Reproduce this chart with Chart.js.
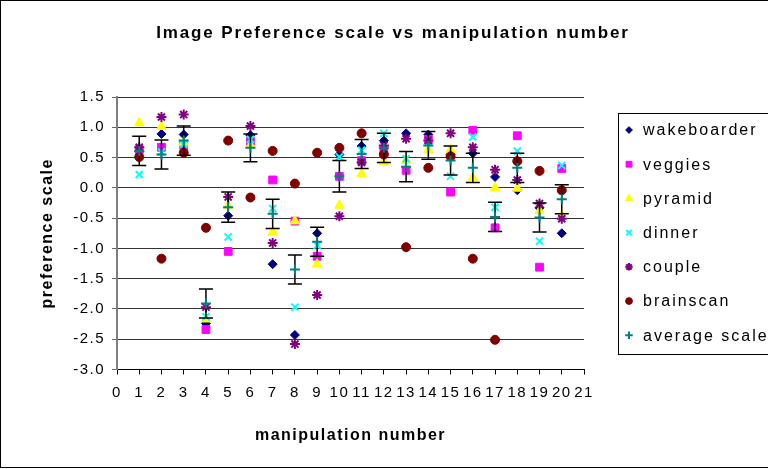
<!doctype html>
<html lang="en">
<head>
<meta charset="utf-8">
<title>Image Preference scale vs manipulation number</title>
<style>
    * { margin: 0; padding: 0; }
    body { background: #fff; width: 768px; height: 469px; overflow: hidden; }
    canvas { display: block; }
</style>
</head>
<body>
<canvas id="myChart" width="768" height="469"></canvas>
<script src="https://cdn.jsdelivr.net/npm/chart.js"></script>
<script>
// manipulation numbers (x values)
const manipulations = [1, 2, 3, 4, 5, 6, 7, 8, 9, 10, 11, 12, 13, 14, 15, 16, 17, 18, 19, 20];

// preference scale per image
const wakeboarder = [0.60, 0.89, 0.88, -2.24, -0.46, 0.87, -1.26, -2.43, -0.75, 0.55, 0.69, 0.78, 0.90, 0.88, 0.55, 0.57, 0.18, -0.04, -0.33, -0.75];
const veggies     = [0.63, 0.67, 0.70, -2.34, -1.05, 0.77, 0.13, -0.55, -1.13, 0.19, 0.45, 0.62, 0.29, 0.80, -0.07, 0.95, -0.66, 0.86, -1.31, 0.32];
const pyramid     = [1.07, 1.01, 0.75, -2.17, -0.29, 0.70, -0.73, -0.55, -1.26, -0.29, 0.23, 0.43, 0.45, 0.62, 0.63, 0.17, 0.00, -0.01, -0.38, -0.45];
const dinner      = [0.22, 0.59, 0.72, -2.13, -0.81, 0.80, -0.34, -1.97, -0.95, 0.51, 0.62, 0.90, 0.48, 0.75, 0.19, 0.84, -0.32, 0.61, -0.88, 0.37];
const couple      = [0.67, 1.17, 1.21, -1.97, -0.15, 1.02, -0.91, -2.58, -1.77, -0.47, 0.42, 0.70, 0.81, 0.78, 0.90, 0.67, 0.30, 0.13, -0.26, -0.51];
const brainscan   = [0.51, -1.17, 0.58, -0.66, 0.78, -0.16, 0.61, 0.07, 0.58, 0.66, 0.90, 0.55, -0.98, 0.33, 0.52, -1.17, -2.51, 0.44, 0.28, -0.04];
const averageScale = [0.61, 0.55, 0.78, -1.91, -0.32, 0.66, -0.43, -1.35, -0.89, 0.19, 0.56, 0.66, 0.35, 0.70, 0.45, 0.33, -0.48, 0.33, -0.49, -0.19];
// error bar half-length on the average
const averageError = [0.24, 0.24, 0.24, 0.24, 0.25, 0.23, 0.24, 0.24, 0.24, 0.26, 0.24, 0.24, 0.25, 0.23, 0.24, 0.24, 0.24, 0.24, 0.24, 0.24];

const seriesNames = ['wakeboarder', 'veggies', 'pyramid', 'dinner', 'couple', 'brainscan', 'average scale'];
const seriesValues = [wakeboarder, veggies, pyramid, dinner, couple, brainscan, averageScale];

const styles = [
    { color: '#000080', pointStyle: 'rectRot', radius: 4.5, width: 1 },
    { color: '#FF00FF', pointStyle: 'rect', radius: 5.5, width: 1 },
    { color: '#FFFF00', pointStyle: 'triangle', radius: 5.5, width: 1 },
    { color: '#00FFFF', pointStyle: 'crossRot', radius: 5, width: 2 },
    { color: '#800080', pointStyle: 'star', radius: 5, width: 2 },
    { color: '#800000', pointStyle: 'circle', radius: 4.5, width: 1 },
    { color: '#008080', pointStyle: 'cross', radius: 5, width: 2 }
];

const FONT = "'Liberation Sans', Arial, sans-serif";

const datasets = seriesNames.map(function (name, i) {
    return {
        label: name,
        data: manipulations.map((m, j) => ({ x: m, y: seriesValues[i][j] })),
        pointStyle: styles[i].pointStyle,
        pointRadius: styles[i].radius,
        pointHoverRadius: styles[i].radius,
        backgroundColor: styles[i].color,
        borderColor: styles[i].color,
        pointBorderWidth: styles[i].width,
        showLine: false,
        order: 7 - i   // first series drawn first (underneath), like Excel
    };
});

// error bars on the average series, drawn just before the average markers
const errorBars = {
    id: 'errorBars',
    afterDatasetDraw(chart, args) {
        if (args.index !== 5) return;
        const ctx = chart.ctx, xs = chart.scales.x, ys = chart.scales.y;
        ctx.save();
        ctx.strokeStyle = '#000';
        ctx.lineWidth = 1.5;
        manipulations.forEach(function (m, j) {
            const px = xs.getPixelForValue(m);
            const top = ys.getPixelForValue(averageScale[j] + averageError[j]);
            const bot = ys.getPixelForValue(averageScale[j] - averageError[j]);
            ctx.beginPath();
            ctx.moveTo(px, top); ctx.lineTo(px, bot);
            ctx.moveTo(px - 7, top); ctx.lineTo(px + 7, top);
            ctx.moveTo(px - 7, bot); ctx.lineTo(px + 7, bot);
            ctx.stroke();
        });
        ctx.restore();
    }
};

// spacing of the text like the spread-out Excel rendering
const spacing = {
    id: 'spacing',
    beforeUpdate(chart) { chart.ctx.letterSpacing = '1.5px'; },
    beforeDraw(chart) { chart.ctx.letterSpacing = '1.5px'; }
};

// title, outer frame and boxed legend
const decorations = {
    id: 'decorations',
    afterDraw(chart) {
        const ctx = chart.ctx;
        ctx.save();
        ctx.strokeStyle = '#000';
        ctx.lineWidth = 1;
        ctx.strokeRect(0.5, 0.5, 900, 467);

        ctx.fillStyle = '#000';
        ctx.letterSpacing = '1.85px';
        ctx.font = 'bold 17px ' + FONT;
        ctx.textAlign = 'center';
        ctx.textBaseline = 'middle';
        ctx.fillText('Image Preference scale vs manipulation number', 393, 33);

        ctx.strokeRect(618.5, 113.5, 300, 241);
        ctx.letterSpacing = '2px';
        ctx.font = '16px ' + FONT;
        ctx.textAlign = 'left';
        seriesNames.forEach(function (name, i) {
            const y = 130 + i * 34.2;
            ctx.fillStyle = styles[i].color;
            ctx.strokeStyle = styles[i].color;
            ctx.lineWidth = styles[i].width;
            Chart.helpers.drawPoint(ctx, {
                pointStyle: styles[i].pointStyle,
                radius: styles[i].radius * 0.75,
                rotation: 0,
                borderWidth: styles[i].width
            }, 629, y);
            ctx.fillStyle = '#000';
            ctx.fillText(name, 643, y + 1);
        });
        ctx.restore();
    }
};

const config = {
    type: 'scatter',
    data: { datasets: datasets },
    options: {
        responsive: false,
        animation: false,
        layout: { padding: { left: 0, top: 97, right: 184, bottom: 0 } },
        plugins: {
            legend: { display: false },
            title: { display: false },
            tooltip: { enabled: false }
        },
        scales: {
            x: {
                type: 'linear',
                min: 0,
                max: 21,
                ticks: {
                    stepSize: 1,
                    autoSkip: false,
                    maxRotation: 0,
                    color: '#000',
                    padding: 9,
                    font: { family: FONT, size: 15 }
                },
                grid: { drawOnChartArea: false, drawTicks: true, tickLength: 5, tickColor: '#000' },
                border: { color: '#000', width: 1 },
                title: {
                    display: true,
                    text: 'manipulation number',
                    color: '#000',
                    font: { family: FONT, size: 16, weight: 'bold' },
                    padding: { top: 0, bottom: 24 }
                },
                afterFit(scale) { scale.height = 99.5; }
            },
            y: {
                min: -3,
                max: 1.5,
                ticks: {
                    stepSize: 0.5,
                    color: '#000',
                    padding: 7,
                    font: { family: FONT, size: 15 },
                    callback: v => v.toFixed(1)
                },
                grid: { color: '#333', lineWidth: 1, tickLength: 5, tickColor: '#666' },
                border: { color: '#808080', width: 2 },
                title: {
                    display: true,
                    text: 'preference scale',
                    color: '#000',
                    font: { family: FONT, size: 16, weight: 'bold' },
                    padding: { top: 38, bottom: 0 }
                },
                afterFit(scale) { scale.width = 117; }
            }
        }
    },
    plugins: [spacing, errorBars, decorations]
};

window.chart = new Chart(document.getElementById('myChart'), config);
</script>
</body>
</html>
